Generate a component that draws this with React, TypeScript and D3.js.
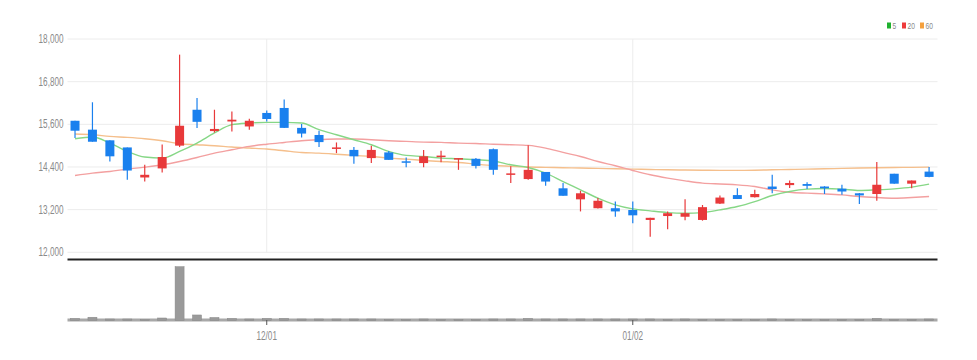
import React from 'react';
import * as d3 from 'd3';

const dates = [
  '11/14', '11/17', '11/18', '11/19', '11/20', '11/21', '11/24', '11/25', '11/26', '11/27',
  '11/28', '12/01', '12/02', '12/03', '12/04', '12/05', '12/08', '12/09', '12/10', '12/11',
  '12/12', '12/15', '12/16', '12/17', '12/18', '12/19', '12/22', '12/23', '12/24', '12/26',
  '12/29', '12/30', '01/02', '01/05', '01/06', '01/07', '01/08', '01/09', '01/12', '01/13',
  '01/14', '01/15', '01/16', '01/19', '01/20', '01/21', '01/22', '01/23', '01/26', '01/27',
];
const opens = [
  15700, 15450, 15150, 14950, 14105, 14360, 15000, 16010, 15410, 15680,
  15540, 15920, 16060, 15500, 15300, 14910, 14880, 14650, 14810, 14560,
  14510, 14680, 14620, 14630, 14900, 14190, 14060, 14260, 13800, 13490,
  13240, 13240, 13190, 12910, 13020, 13000, 12910, 13370, 13610, 13550,
  13850, 13890, 13920, 13850, 13790, 13660, 13640, 14210, 13930, 14270,
];
const highs = [
  15700, 16220, 15150, 14950, 14460, 15030, 17560, 16340, 16010, 15960,
  15760, 15990, 16300, 15610, 15420, 15090, 14960, 15000, 14850, 14670,
  14880, 14860, 14640, 14650, 14920, 14420, 15010, 14260, 13950, 13730,
  13530, 13430, 13430, 12970, 13150, 13490, 13330, 13600, 13800, 13760,
  14180, 14020, 13970, 13860, 13900, 13670, 14540, 14210, 14020, 14400,
];
const lows = [
  15215, 15110, 14555, 14040, 13990, 14245, 14960, 15500, 15370, 15400,
  15450, 15680, 15500, 15230, 14960, 14790, 14490, 14510, 14600, 14390,
  14390, 14530, 14320, 14360, 14180, 13950, 14040, 13870, 13590, 13150,
  13230, 13000, 12820, 12440, 12650, 12900, 12890, 13360, 13500, 13540,
  13660, 13810, 13780, 13640, 13620, 13360, 13450, 13930, 13800, 14110,
];
const closes = [
  15420, 15110, 14700, 14300, 14180, 14680, 15560, 15670, 15470, 15730,
  15700, 15750, 15500, 15340, 15100, 14950, 14700, 14880, 14600, 14520,
  14700, 14720, 14650, 14430, 14320, 14220, 14320, 13990, 13590, 13660,
  13450, 13150, 13040, 12970, 13100, 13100, 13270, 13540, 13500, 13640,
  13780, 13950, 13870, 13800, 13710, 13600, 13900, 13930, 14020, 14120,
];
const volumes = [
  60000, 110000, 40000, 40000, 10000, 80000, 2120000, 200000, 100000, 60000,
  40000, 60000, 60000, 40000, 40000, 40000, 40000, 40000, 10000, 10000,
  40000, 10000, 10000, 10000, 40000, 40000, 60000, 40000, 40000, 40000,
  40000, 40000, 40000, 40000, 10000, 40000, 10000, 10000, 10000, 10000,
  40000, 10000, 10000, 10000, 10000, 10000, 60000, 10000, 10000, 40000,
];
const ma5 = [
  15194, 15243, 15074, 14838, 14679, 14650, 14838, 15074, 15356, 15590,
  15637, 15656, 15656, 15637, 15449, 15307, 15166, 15026, 14838, 14725,
  14696, 14650, 14631, 14603, 14570, 14462, 14386, 14227, 13991, 13757,
  13522, 13334, 13221, 13165, 13117, 13100, 13117, 13193, 13287, 13427,
  13597, 13710, 13776, 13794, 13776, 13738, 13757, 13785, 13832, 13917,
];
const ma20 = [
  14160, 14227, 14274, 14340, 14396, 14462, 14555, 14668, 14791, 14885,
  14979, 15040, 15090, 15138, 15166, 15185, 15185, 15166, 15138, 15119,
  15100, 15091, 15070, 15060, 15040, 15026, 15007, 14932, 14809, 14696,
  14555, 14434, 14302, 14180, 14086, 14010, 13946, 13920, 13898, 13850,
  13757, 13691, 13664, 13644, 13616, 13569, 13541, 13522, 13541, 13569,
];
const ma60 = [
  15326, 15307, 15260, 15232, 15194, 15138, 15054, 15026, 14998, 14960,
  14932, 14904, 14857, 14809, 14791, 14760, 14725, 14696, 14650, 14620,
  14584, 14555, 14527, 14480, 14440, 14420, 14400, 14390, 14380, 14370,
  14360, 14350, 14340, 14330, 14320, 14315, 14310, 14305, 14305, 14310,
  14320, 14330, 14340, 14349, 14360, 14370, 14378, 14385, 14390, 14396,
];
const yTicks = [12000, 13200, 14400, 15600, 16800, 18000];
const xTickLabels = ['12/01', '01/02'];
const legendLabels = ['5', '20', '60'];

const W = 977;
const H = 360;
const UP = '#e8393a';
const DOWN = '#1a80ee';
const LEGEND_COLORS = ['#1fb12f', '#ee3b3b', '#f5a03c'];
const LINE_COLORS = ['#86d786', '#f3a0a0', '#f5bf8c'];
const FONT = '"Liberation Sans", Arial, sans-serif';

export default function App() {
  const x = d3.scaleBand<string>().domain(dates).range([66.3, 937.8]).padding(0);
  const y = d3.scaleLinear().domain([12000, 18000]).range([252.3, 39]);
  const v = d3.scaleLinear().domain([0, 2120000]).range([320, 266.7]);
  const bw = x.bandwidth();
  const cw = 9;
  const cx = (d: string) => (x(d) as number) + bw / 2;
  const fmt = d3.format(',');
  const lineGen = d3
    .line<number>()
    .x((_, i) => cx(dates[i]))
    .y((d) => y(d))
    .curve(d3.curveMonotoneX);
  const left = 67.5;
  const right = 937.5;

  return (
    <svg width={W} height={H} style={{ position: 'absolute', left: 0, top: 0, background: '#fff' }}>
      {/* horizontal grid */}
      {yTicks.map((t) => (
        <line key={'g' + t} x1={left} x2={right} y1={y(t)} y2={y(t)} stroke="#ececec" strokeWidth={1} />
      ))}
      {/* vertical grid */}
      {xTickLabels.map((t) => (
        <line key={'v' + t} x1={cx(t)} x2={cx(t)} y1={y(18000)} y2={y(12000)} stroke="#ececec" strokeWidth={1} />
      ))}
      {/* y labels */}
      {yTicks.map((t) => (
        <text
          key={'yl' + t}
          transform={`translate(63.5,${y(t) + 4}) scale(0.68,1)`}
          textAnchor="end"
          fontSize={12}
          fontFamily={FONT}
          fill="#8a8a8a"
        >
          {fmt(t)}
        </text>
      ))}
      {/* moving averages */}
      <path d={lineGen(ma60) || ''} fill="none" stroke={LINE_COLORS[2]} strokeWidth={1.4} />
      <path d={lineGen(ma20) || ''} fill="none" stroke={LINE_COLORS[1]} strokeWidth={1.4} />
      <path d={lineGen(ma5) || ''} fill="none" stroke={LINE_COLORS[0]} strokeWidth={1.4} />
      {/* candles */}
      {dates.map((d, i) => {
        const o = opens[i];
        const c = closes[i];
        const col = c >= o ? UP : DOWN;
        const top = y(Math.max(o, c));
        const bot = y(Math.min(o, c));
        const h = Math.max(bot - top, 1.5);
        return (
          <g key={'c' + d}>
            <line x1={cx(d)} x2={cx(d)} y1={y(highs[i])} y2={y(lows[i])} stroke={col} strokeWidth={1.2} />
            <rect x={cx(d) - cw / 2} y={top} width={cw} height={h} fill={col} />
          </g>
        );
      })}
      {/* separator */}
      <line x1={left} x2={right} y1={259.5} y2={259.5} stroke="#222" strokeWidth={2} />
      {/* volume baseline */}
      <line x1={left} x2={right} y1={320} y2={320} stroke="#a8a8a8" strokeWidth={3} />
      {/* volume bars */}
      {dates.map((d, i) => {
        const top = v(volumes[i]);
        return (
          <rect
            key={'vb' + d}
            x={cx(d) - cw / 2}
            y={top}
            width={cw}
            height={Math.max(320.5 - top, 0)}
            fill="#9a9a9a"
            stroke="#888"
            strokeWidth={0.5}
          />
        );
      })}
      {/* x ticks */}
      {xTickLabels.map((t) => (
        <g key={'xt' + t}>
          <line x1={cx(t)} x2={cx(t)} y1={320} y2={325} stroke="#555" strokeWidth={1} />
          <text
            transform={`translate(${cx(t)},340) scale(0.68,1)`}
            textAnchor="middle"
            fontSize={12}
            fontFamily={FONT}
            fill="#8a8a8a"
          >
            {t}
          </text>
        </g>
      ))}
      {/* legend */}
      {legendLabels.map((l, i) => {
        const xs = [887, 902, 920][i];
        return (
          <g key={'lg' + l}>
            <rect x={xs} y={22.5} width={4} height={6} fill={LEGEND_COLORS[i]} />
            <text
              transform={`translate(${xs + 5.5},29) scale(0.7,1)`}
              fontSize={9.5}
              fontFamily={FONT}
              fill="#8a8a8a"
            >
              {l}
            </text>
          </g>
        );
      })}
    </svg>
  );
}
